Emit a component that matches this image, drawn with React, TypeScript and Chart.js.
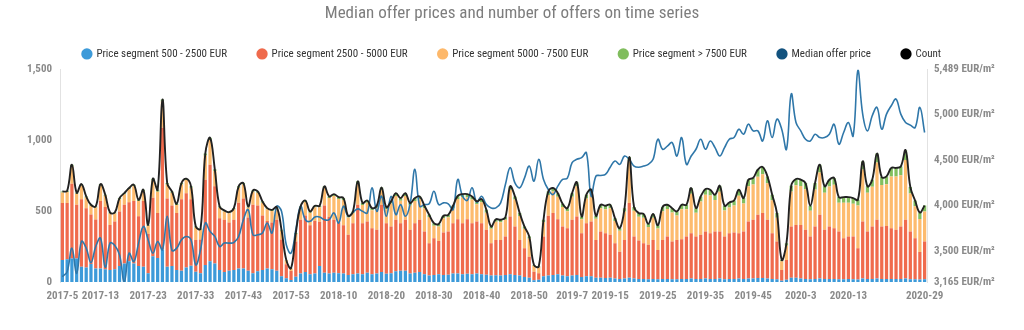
import React, { useEffect, useRef } from 'react';
import { Chart, registerables } from 'chart.js';

Chart.register(...registerables);

// [year, first week, last week]
const WEEK_RANGES: number[][] = [
  [2017, 5, 53],
  [2018, 1, 52],
  [2019, 1, 52],
  [2020, 1, 29],
];

const SHOWN_TICKS = [
  '2017-5', '2017-13', '2017-23', '2017-33', '2017-43', '2017-53',
  '2018-10', '2018-20', '2018-30', '2018-40', '2018-50',
  '2019-7', '2019-15', '2019-25', '2019-35', '2019-45',
  '2020-3', '2020-13', '2020-29',
];

const RIGHT_TICKS = [3165, 3500, 4000, 4500, 5000, 5489];

const SEG_500_2500 = [
  156, 160, 165, 165, 108, 103, 127, 96, 96, 90,
  85, 90, 113, 130, 146, 130, 113, 108, 61, 182,
  170, 231, 108, 113, 85, 80, 103, 115, 73, 61,
  120, 146, 130, 85, 71, 80, 85, 96, 96, 80,
  61, 75, 85, 95, 90, 80, 40, 26, 14, 37,
  60, 70, 55, 60, 113, 65, 60, 65, 62, 60,
  50, 55, 60, 55, 65, 55, 60, 70, 58, 62,
  75, 80, 80, 60, 65, 70, 55, 45, 50, 55,
  50, 52, 60, 60, 55, 58, 55, 60, 55, 52,
  45, 48, 45, 50, 55, 50, 45, 35, 30, 12,
  15, 40, 45, 50, 55, 45, 40, 45, 50, 35,
  40, 40, 30, 30, 28, 30, 25, 22, 25, 30,
  25, 22, 22, 20, 22, 20, 22, 22, 20, 20,
  22, 22, 25, 22, 22, 25, 22, 22, 25, 20,
  22, 22, 25, 22, 25, 25, 28, 28, 25, 22,
  20, 8, 15, 30, 30, 25, 22, 20, 22, 25,
  22, 22, 22, 20, 20, 22, 20, 18, 25, 22,
  22, 25, 22, 22, 22, 22, 22, 25, 20, 20,
  18, 20,
];

const SEG_2500_5000 = [
  401, 397, 529, 380, 475, 417, 349, 345, 475, 440,
  318, 337, 385, 415, 416, 441, 351, 463, 279, 412,
  316, 857, 482, 427, 401, 503, 524, 468, 224, 239,
  602, 682, 545, 365, 369, 340, 355, 464, 494, 375,
  484, 465, 385, 335, 330, 360, 260, 99, 64, 248,
  380, 400, 345, 370, 312, 475, 400, 375, 358, 340,
  283, 360, 485, 360, 362, 325, 308, 475, 357, 329,
  364, 335, 359, 308, 350, 369, 301, 228, 259, 235,
  299, 304, 355, 383, 360, 385, 360, 367, 360, 316,
  228, 249, 252, 271, 407, 341, 252, 203, 149, 61,
  46, 281, 422, 436, 388, 346, 340, 394, 412, 309,
  375, 387, 267, 326, 316, 303, 248, 192, 272, 527,
  296, 270, 251, 242, 275, 206, 275, 299, 265, 277,
  280, 299, 319, 299, 311, 331, 322, 334, 331, 301,
  322, 327, 319, 334, 402, 414, 446, 458, 414, 322,
  265, 77, 141, 361, 373, 378, 346, 301, 369, 449,
  346, 369, 358, 336, 289, 299, 301, 220, 402, 334,
  369, 415, 369, 373, 358, 346, 369, 414, 336, 289,
  194, 265,
];

const SEG_5000_7500 = [
  74, 78, 122, 77, 98, 76, 62, 85, 110, 78,
  80, 56, 86, 74, 92, 105, 108, 71, 57, 123,
  151, 185, 98, 90, 58, 105, 92, 82, 88, 69,
  170, 174, 108, 75, 57, 65, 73, 105, 98, 70,
  91, 89, 90, 83, 81, 79, 62, 28, 17, 54,
  84, 95, 89, 98, 103, 123, 132, 166, 165, 178,
  122, 71, 147, 128, 133, 127, 155, 104, 98, 162,
  168, 159, 168, 171, 157, 145, 164, 185, 88, 102,
  100, 100, 103, 143, 183, 155, 167, 122, 148, 121,
  102, 128, 124, 118, 188, 191, 169, 137, 128, 42,
  43, 100, 147, 152, 159, 139, 119, 163, 213, 98,
  175, 196, 150, 165, 170, 187, 157, 148, 199, 295,
  181, 168, 181, 126, 157, 152, 203, 194, 206, 173,
  211, 192, 279, 168, 235, 260, 267, 222, 281, 183,
  182, 190, 265, 198, 249, 249, 269, 274, 258, 232,
  169, 61, 100, 248, 279, 274, 286, 182, 262, 299,
  262, 283, 306, 203, 250, 238, 231, 302, 366, 273,
  281, 404, 294, 295, 365, 377, 362, 421, 269, 226,
  233, 213,
];

const SEG_7500_PLUS = [
  8, 8, 12, 8, 10, 8, 7, 7, 10, 8,
  7, 7, 8, 8, 9, 10, 8, 9, 6, 12,
  14, 15, 10, 9, 8, 10, 10, 10, 6, 6,
  14, 15, 12, 8, 8, 8, 8, 10, 10, 8,
  10, 10, 9, 8, 8, 9, 6, 3, 2, 6,
  9, 10, 9, 10, 10, 12, 12, 14, 14, 14,
  12, 12, 18, 14, 15, 14, 15, 18, 15, 16,
  20, 18, 20, 18, 20, 20, 18, 16, 18, 18,
  18, 18, 20, 22, 22, 22, 22, 20, 22, 20,
  16, 18, 18, 18, 25, 22, 20, 16, 14, 5,
  5, 18, 25, 25, 25, 22, 22, 25, 28, 20,
  26, 28, 20, 24, 24, 25, 20, 18, 24, 30,
  28, 26, 26, 22, 26, 22, 30, 30, 30, 28,
  32, 32, 40, 32, 36, 40, 40, 38, 42, 34,
  35, 36, 42, 38, 46, 46, 50, 52, 48, 40,
  32, 10, 18, 40, 45, 45, 44, 35, 45, 55,
  45, 48, 48, 40, 40, 40, 40, 40, 58, 46,
  50, 62, 55, 55, 60, 60, 62, 70, 45, 40,
  45, 42,
];

const MEDIAN_PRICE = [
  3223, 3278, 3535, 3260, 3608, 3535, 3377, 3553, 3645, 3326,
  3590, 3565, 3462, 3168, 3480, 3388, 3590, 3773, 3627, 3480,
  3608, 3517, 3883, 3510, 3535, 3627, 3663, 3627, 3352, 3517,
  3810, 3718, 3663, 3553, 3590, 3590, 3597, 3663, 3846, 3956,
  3681, 3681, 3700, 3810, 3700, 3993, 3938, 3572, 3480, 3736,
  3993, 3846, 3828, 3876, 3876, 3846, 3846, 3920, 3810, 3993,
  3883, 3927, 3964, 3938, 3920, 4195, 3938, 4103, 3883, 4103,
  3901, 4011, 3883, 4020, 4396, 3993, 4011, 4020, 4157, 4011,
  4030, 4020, 3956, 4286, 4103, 4057, 4195, 4038, 4103, 4011,
  3975, 3975, 4030, 4231, 4415, 4249, 4195, 4300, 4432, 4267,
  4506, 4286, 4176, 4121, 4213, 4286, 4300, 4469, 4506, 4524,
  4579, 4103, 4322, 4330, 4341, 4420, 4487, 4451, 4542, 4506,
  4432, 4420, 4432, 4451, 4506, 4726, 4616, 4650, 4689, 4542,
  4744, 4451, 4542, 4616, 4726, 4616, 4707, 4634, 4542, 4634,
  4726, 4744, 4836, 4780, 4890, 4817, 4817, 4707, 4927, 4744,
  4945, 4836, 4616, 5220, 4908, 4817, 4726, 4707, 4780, 4744,
  4744, 4780, 4890, 4671, 4799, 4908, 4762, 5480, 5000, 4817,
  4982, 5074, 4836, 5000, 5092, 5165, 5000, 4908, 4880, 4853,
  5074, 4799,
];

const SERIES_NAMES = [
  'Price segment 500 - 2500 EUR',
  'Price segment 2500 - 5000 EUR',
  'Price segment 5000 - 7500 EUR',
  'Price segment > 7500 EUR',
  'Median offer price',
  'Count',
];

const BAR_COLORS = ['#3c9ad9', '#f06b4d', '#fdbb6e', '#82bf5f'];
const LEGEND_COLORS = ['#3c9ad9', '#ef6a4c', '#fdb86a', '#80bd5d', '#12527e', '#000000'];
const MEDIAN_COLOR = '#2f77a9';
const COUNT_COLOR = '#222222';

const FONT = "'Liberation Sans Narrow', 'Roboto Condensed', 'DejaVu Sans Condensed', Roboto, sans-serif";

const LABELS: string[] = [];
WEEK_RANGES.forEach(([y, a, b]) => {
  for (let w = a; w <= b; w++) LABELS.push(`${y}-${w}`);
});

const SEGMENTS = [SEG_500_2500, SEG_2500_5000, SEG_5000_7500, SEG_7500_PLUS];
const COUNT = LABELS.map((_, i) => SEGMENTS.reduce((s, arr) => s + arr[i], 0));

export default function App() {
  const ref = useRef<HTMLCanvasElement>(null);

  useEffect(() => {
    document.body.style.margin = '0';
    const canvas = ref.current;
    if (!canvas) return;
    const barSets = SEGMENTS.map((arr, k) => ({
      type: 'bar' as const,
      label: SERIES_NAMES[k],
      data: arr,
      backgroundColor: BAR_COLORS[k],
      borderWidth: 0,
      stack: 'seg',
      yAxisID: 'y',
      categoryPercentage: 0.68,
      barPercentage: 1,
      order: 2,
    }));
    const chart = new Chart(canvas, {
      type: 'bar',
      data: {
        labels: LABELS,
        datasets: [
          ...barSets,
          {
            type: 'line' as const,
            label: SERIES_NAMES[4],
            data: MEDIAN_PRICE,
            borderColor: MEDIAN_COLOR,
            backgroundColor: MEDIAN_COLOR,
            borderWidth: 1.6,
            pointRadius: 0,
            tension: 0.4,
            yAxisID: 'y1',
            order: 1,
          },
          {
            type: 'line' as const,
            label: SERIES_NAMES[5],
            data: COUNT,
            borderColor: COUNT_COLOR,
            backgroundColor: COUNT_COLOR,
            borderWidth: 1.9,
            pointRadius: 0,
            tension: 0.4,
            yAxisID: 'y',
            stack: 'count',
            order: 0,
          },
        ] as any,
      },
      options: {
        animation: false,
        responsive: false,
        maintainAspectRatio: false,
        layout: { padding: { left: 0, right: 0, top: 0, bottom: 0 } },
        plugins: {
          title: {
            display: true,
            text: 'Median offer prices and number of offers on time series',
            color: '#7d7d7d',
            font: { family: FONT, size: 17, weight: 'normal' },
            padding: { top: 4, bottom: -7 },
          },
          legend: {
            position: 'top',
            labels: {
              usePointStyle: true,
              boxWidth: 8,
              boxHeight: 8,
              padding: 31,
              color: '#333333',
              font: { family: FONT, size: 11 },
              sort: (a: any, b: any) => a.datasetIndex - b.datasetIndex,
              generateLabels: (c: any) =>
                Chart.defaults.plugins.legend.labels.generateLabels(c).map((it: any) => ({
                  ...it,
                  fillStyle: LEGEND_COLORS[it.datasetIndex],
                  strokeStyle: LEGEND_COLORS[it.datasetIndex],
                  lineWidth: 0,
                  pointStyle: 'circle',
                  lineDash: [],
                })),
            },
          },
          tooltip: { enabled: false },
        },
        scales: {
          x: {
            stacked: true,
            grid: { display: false, drawTicks: false },
            border: { display: false },
            ticks: {
              autoSkip: false,
              maxRotation: 0,
              minRotation: 0,
              padding: 8,
              color: '#8a8a8a',
              font: { family: FONT, size: 11, weight: 'bold' },
              callback: (_v: any, i: number) => (SHOWN_TICKS.includes(LABELS[i]) ? LABELS[i] : ''),
            },
            afterFit: (s: any) => {
              s.height = 48;
            },
          },
          y: {
            stacked: true,
            position: 'left',
            min: 0,
            max: 1500,
            grid: { display: false, drawTicks: false },
            border: { display: true, color: '#e2e2e2' },
            ticks: {
              stepSize: 500,
              padding: 8,
              color: '#8a8a8a',
              font: { family: FONT, size: 11, weight: 'bold' },
              callback: (v: any) => Number(v).toLocaleString('en-US'),
            },
            afterFit: (s: any) => {
              s.width = 60;
            },
          },
          y1: {
            position: 'right',
            min: 3165,
            max: 5489,
            grid: { display: false, drawTicks: false },
            border: { display: true, color: '#e2e2e2' },
            afterBuildTicks: (s: any) => {
              s.ticks = RIGHT_TICKS.map((v) => ({ value: v }));
            },
            ticks: {
              padding: 7,
              color: '#8a8a8a',
              font: { family: FONT, size: 11, weight: 'bold' },
              callback: (v: any) => Number(v).toLocaleString('en-US') + ' EUR/m²',
            },
            afterFit: (s: any) => {
              s.width = 97;
            },
          },
        },
      } as any,
    });
    return () => chart.destroy();
  }, []);

  return (
    <div style={{ width: 1024, height: 330 }}>
      <canvas ref={ref} width={1024} height={330} style={{ display: 'block' }} />
    </div>
  );
}
